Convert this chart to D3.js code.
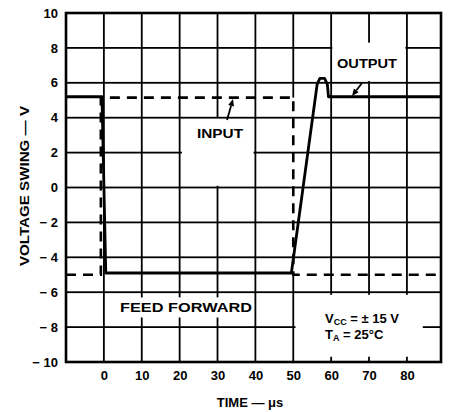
<!DOCTYPE html>
<html>
<head>
<meta charset="utf-8">
<script src="https://cdn.jsdelivr.net/npm/d3@7/dist/d3.min.js"></script>
<style>
  html, body { margin: 0; padding: 0; background: #fff; }
  svg { display: block; }
  text { font-family: "Liberation Sans", Arial, sans-serif; font-weight: bold; fill: #000; }
</style>
</head>
<body>
<svg id="chart" width="451" height="412"></svg>
<script>
// ---- data ----
const xTicks = [0, 10, 20, 30, 40, 50, 60, 70, 80];
const yTicks = [-10, -8, -6, -4, -2, 0, 2, 4, 6, 8, 10];
const yGridValues = [-8, -6, -4, -2, 0, 2, 4, 6, 8];
const xDomain = [-10, 89];
const yDomain = [-10, 10];

// Output (solid) waveform: time (µs) and voltage (V)
const outputTime = [-10, -0.5, 0.5, 49.5, 56.3, 57.0, 58.3, 59.0, 59.3, 89];
const outputVolt = [5.2, 5.2, -4.9, -4.9, 5.9, 6.25, 6.25, 5.9, 5.2, 5.2];

// Input (dashed) waveform
const inputTime = [-10, -0.8, -0.8, 50, 50, 89];
const inputVolt = [-5, -5, 5.15, 5.15, -5, -5];

// ---- layout ----
const svg = d3.select("#chart");
const margin = { left: 66, top: 13, right: 10, bottom: 50 };
const W = 451, H = 412;
const x = d3.scaleLinear().domain(xDomain).range([margin.left, W - margin.right]);
const y = d3.scaleLinear().domain(yDomain).range([H - margin.bottom, margin.top]);
const plotW = W - margin.right - margin.left;
const plotH = H - margin.bottom - margin.top;
const GW = 1.8; // grid line thickness

const lineGen = d3.line().x(d => x(d[0])).y(d => y(d[1]));
const inputPts = inputTime.map((t, i) => [t, inputVolt[i]]);
const outputPts = outputTime.map((t, i) => [t, outputVolt[i]]);

// label areas where the grid is interrupted (in data units)
const gaps = [
  { t0: 20.6, t1: 39.5, v0: 4, v1: 0.1 },     // INPUT
  { t0: 60.3, t1: 79.6, v0: 8.3, v1: 6.1 },   // OUTPUT
  { t0: 0.6,  t1: 39.5, v0: -6.3, v1: -7.45 },// FEED FORWARD
  { t0: 50.6, t1: 84.2, v0: -6.15, v1: -9.7 } // Vcc box
];

const vertEdges = [];
for (let i = 0; i < inputPts.length - 1; i++) {
  if (inputPts[i][0] === inputPts[i + 1][0]) vertEdges.push([inputPts[i][0], inputPts[i][1], inputPts[i + 1][1]]);
}

function subtract(lo, hi, cuts) {
  let segs = [[lo, hi]];
  cuts.forEach(([a, b]) => {
    const c0 = Math.min(a, b), c1 = Math.max(a, b);
    const next = [];
    segs.forEach(([s0, s1]) => {
      if (c1 <= s0 || c0 >= s1) { next.push([s0, s1]); return; }
      if (c0 > s0) next.push([s0, c0]);
      if (c1 < s1) next.push([c1, s1]);
    });
    segs = next;
  });
  return segs;
}

// grid drawn as thin filled bars
const bars = [];
xTicks.forEach(t => {
  const cuts = gaps.filter(g => t > g.t0 && t < g.t1).map(g => [g.v1, g.v0])
    .concat(vertEdges.filter(e => Math.abs(e[0] - t) < 0.5).map(e => [e[1], e[2]]));
  subtract(yDomain[0], yDomain[1], cuts).forEach(([a, b]) =>
    bars.push({ x: x(t) - GW / 2, y: y(b), w: GW, h: y(a) - y(b) }));
});
yGridValues.forEach(v => {
  const cuts = gaps.filter(g => v < g.v0 && v > g.v1).map(g => [g.t0, g.t1]);
  subtract(xDomain[0], xDomain[1], cuts).forEach(([a, b]) =>
    bars.push({ x: x(a), y: y(v) - GW / 2, w: x(b) - x(a), h: GW }));
});
svg.append("g").attr("fill", "#000").selectAll("rect").data(bars).enter().append("rect")
  .attr("x", d => d.x).attr("y", d => d.y).attr("width", d => d.w).attr("height", d => d.h);

// input dashed
svg.append("path").datum(inputPts)
  .attr("d", lineGen).attr("fill", "none").attr("stroke", "#000")
  .attr("stroke-width", 2.6).attr("stroke-dasharray", "10,7");

// output solid
svg.append("path").datum(outputPts)
  .attr("d", lineGen).attr("fill", "none").attr("stroke", "#000")
  .attr("stroke-width", 2.8).attr("stroke-linejoin", "round");

// frame
svg.append("rect")
  .attr("x", x(xDomain[0])).attr("y", y(yDomain[1])).attr("width", plotW).attr("height", plotH)
  .attr("fill", "none").attr("stroke", "#000").attr("stroke-width", 2.6);

// tick labels via axes
const fmt = v => v < 0 ? "\u2212 " + Math.abs(v) : String(v);
const ay = svg.append("g")
  .attr("transform", `translate(${x(xDomain[0])},0)`)
  .call(d3.axisLeft(y).tickValues(yTicks).tickSize(0).tickPadding(8).tickFormat(fmt));
ay.select(".domain").remove();
ay.selectAll("text").attr("font-size", 13).attr("font-family", "'Liberation Sans', Arial, sans-serif")
  .attr("font-weight", "bold").attr("fill", "#000");

const ax = svg.append("g")
  .attr("transform", `translate(0,${y(yDomain[0])})`)
  .call(d3.axisBottom(x).tickValues(xTicks).tickSize(0).tickPadding(9).tickFormat(d => String(d)));
ax.select(".domain").remove();
ax.selectAll("text").attr("font-size", 13).attr("font-family", "'Liberation Sans', Arial, sans-serif")
  .attr("font-weight", "bold").attr("fill", "#000");

// axis titles
svg.append("text").attr("x", 250).attr("y", 407).attr("text-anchor", "middle")
  .attr("font-size", 13).text("TIME \u2014 \u03bcs");
svg.append("text").attr("transform", "translate(29,186) rotate(-90)")
  .attr("text-anchor", "middle").attr("font-size", 13)
  .attr("textLength", 160).attr("lengthAdjust", "spacingAndGlyphs")
  .text("VOLTAGE SWING \u2014 V");

// annotations
svg.append("text").attr("x", 197).attr("y", 138).attr("font-size", 13)
  .attr("textLength", 46).attr("lengthAdjust", "spacingAndGlyphs").text("INPUT");
svg.append("text").attr("x", 337).attr("y", 68).attr("font-size", 13)
  .attr("textLength", 60).attr("lengthAdjust", "spacingAndGlyphs").text("OUTPUT");
svg.append("text").attr("x", 120).attr("y", 312).attr("font-size", 13.5)
  .attr("textLength", 132).attr("lengthAdjust", "spacingAndGlyphs").text("FEED FORWARD");

const t1 = svg.append("text").attr("x", 325).attr("y", 323).attr("font-size", 13);
t1.append("tspan").text("V");
t1.append("tspan").attr("font-size", 9).attr("dy", 1.5).text("CC");
t1.append("tspan").attr("dy", -1.5).text(" =  \u00b1  15  V");
const t2 = svg.append("text").attr("x", 325).attr("y", 339).attr("font-size", 13);
t2.append("tspan").text("T");
t2.append("tspan").attr("font-size", 9).attr("dy", 1.5).text("A");
t2.append("tspan").attr("dy", -1.5).text("  =  25\u00b0C");

// arrows
function arrow(x1, y1, x2, y2) {
  const ang = Math.atan2(y2 - y1, x2 - x1);
  const L = 7, Wd = 3;
  const bx = x2 - L * Math.cos(ang), by = y2 - L * Math.sin(ang);
  svg.append("line").attr("x1", x1).attr("y1", y1).attr("x2", bx).attr("y2", by)
    .attr("stroke", "#000").attr("stroke-width", 1.8);
  const px = -Math.sin(ang) * Wd, py = Math.cos(ang) * Wd;
  svg.append("path")
    .attr("d", `M${x2},${y2}L${bx + px},${by + py}L${bx - px},${by - py}Z`)
    .attr("fill", "#000");
}
arrow(227, 120, 233, 99);
arrow(362, 83, 352, 96);
</script>
</body>
</html>
